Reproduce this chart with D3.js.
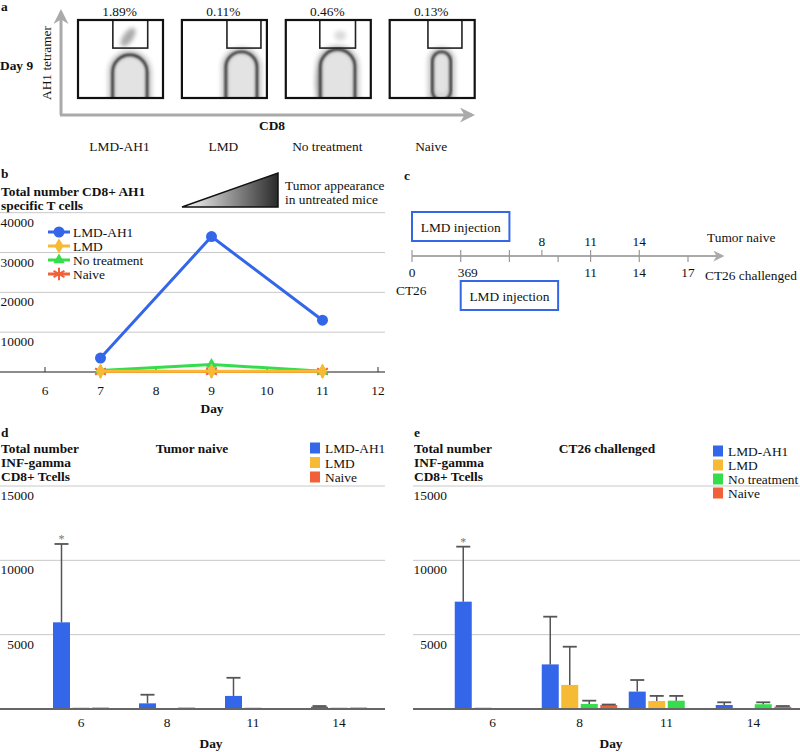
<!DOCTYPE html>
<html><head><meta charset="utf-8">
<script src="https://cdn.jsdelivr.net/npm/d3@7"></script>
<style>
body{margin:0;background:#fff;}
</style></head>
<body><svg id="c" width="800" height="752"></svg>
<script>
// ---------------- DATA ----------------
// Panel a (flow cytometry, day 9)
const flowGroups = ["LMD-AH1", "LMD", "No treatment", "Naive"];
const flowPercents = ["1.89%", "0.11%", "0.46%", "0.13%"];
// population shape in fluorescence units (0-1000)
const popCD8 = [610, 700, 610, 610];
const popSpread = [400, 360, 400, 210];
const popTop = [550, 590, 620, 590];
const popLow = [0, 0, 0, 60];
const gateLeft = [410, 530, 400, 450];
const gateRight = [820, 930, 820, 850];
const gateLow = 640;
const tetCluster = {cd8: 590, tet: 780};

// Panel b
const daysB = [7, 9, 11];
const xTicksB = [6, 7, 8, 9, 10, 11, 12];
const yTicksB = [0, 10000, 20000, 30000, 40000];
const seriesB = ["LMD-AH1", "LMD", "No treatment", "Naive"];
const valLMDAH1 = [3500, 34000, 13000];
const valLMD = [200, 200, 200];
const valNoTreat = [400, 1900, 200];
const valNaive = [100, 100, 100];

// Panel c (timeline)
const tlTopTicks = [0, 3, 6, 8, 11, 14];
const tlBottomTicks = [0, 3, 6, 9, 11, 14, 17];
const tlTopLabels = ["8", "11", "14"];
const tlTopLabelDays = [8, 11, 14];
const tlBottomLabels = ["0", "369", "11", "14", "17"];
const tlBottomLabelDays = [0, 3, 11, 14, 17];

// Panels d & e
const daysDE = ["6", "8", "11", "14"];
const yTicksDE = [0, 5000, 10000, 15000];
const seriesD = ["LMD-AH1", "LMD", "Naive"];
const dMeans = {
  "LMD-AH1": [5830, 380, 880, 150],
  "LMD": [100, 0, 100, 100],
  "Naive": [100, 100, 0, 100]
};
const dErr = {
  "LMD-AH1": [11100, 960, 2100, 200],
  "LMD": [null, null, null, null],
  "Naive": [null, null, null, null]
};
const seriesE = ["LMD-AH1", "LMD", "No treatment", "Naive"];
const eMeans = {
  "LMD-AH1": [7220, 3000, 1170, 270],
  "LMD": [100, 1620, 540, 0],
  "No treatment": [0, 340, 560, 320],
  "Naive": [50, 270, 0, 150]
};
const eErr = {
  "LMD-AH1": [10920, 6210, 1950, 450],
  "LMD": [null, 4190, 880, null],
  "No treatment": [null, 560, 880, 450],
  "Naive": [null, 300, null, 200]
};

const colors = {"LMD-AH1": "#3366e8", "LMD": "#f6ba34", "No treatment": "#35dc4c", "Naive": "#f2603a"};
const FONT = "'Liberation Serif'";
const FS = 13.4;

// ---------------- DRAW ----------------
const svg = d3.select("#c");
svg.append("rect").attr("width", 800).attr("height", 752).attr("fill", "#fff");
const defs = svg.append("defs");
defs.append("filter").attr("id", "blur1").append("feGaussianBlur").attr("stdDeviation", 0.9);
defs.append("filter").attr("id", "blur2").attr("x", "-50%").attr("y", "-50%").attr("width", "200%").attr("height", "200%")
  .append("feGaussianBlur").attr("stdDeviation", 2.2);
const tg = defs.append("linearGradient").attr("id", "trig");
tg.append("stop").attr("offset", "0%").attr("stop-color", "#fff");
tg.append("stop").attr("offset", "100%").attr("stop-color", "#2a2a2a");
const mk = defs.append("marker").attr("id", "arrowG").attr("viewBox", "0 0 10 10").attr("refX", 8).attr("refY", 5)
  .attr("markerWidth", 5).attr("markerHeight", 5).attr("orient", "auto");
mk.append("path").attr("d", "M0,0 L10,5 L0,10 L3,5 Z").attr("fill", "#aaa");

function txt(g, x, y, s, opts = {}) {
  const t = g.append("text").attr("x", x).attr("y", y).text(s)
    .attr("font-family", FONT)
    .attr("font-size", opts.size || FS)
    .attr("fill", opts.fill || "#111");
  if (opts.bold) t.attr("font-weight", "bold");
  if (opts.anchor) t.attr("text-anchor", opts.anchor);
  return t;
}

// ===== Panel a =====
{
  const g = svg.append("g");
  txt(g, 1, 11, "a", {bold: true});
  const boxX = d3.scaleBand().domain(flowGroups).range([78, 478]).paddingInner(0.15).paddingOuter(0);
  const boxTop = 20, boxBot = 98;
  const fy = d3.scaleLinear().domain([0, 1000]).range([boxBot, boxTop]);
  // axes arrows
  g.append("line").attr("x1", 61).attr("y1", 115).attr("x2", 61).attr("y2", 12)
    .attr("stroke", "#aaa").attr("stroke-width", 3).attr("marker-end", "url(#arrowG)");
  g.append("line").attr("x1", 60).attr("y1", 115).attr("x2", 472).attr("y2", 115)
    .attr("stroke", "#aaa").attr("stroke-width", 3).attr("marker-end", "url(#arrowG)");
  txt(g, 0, 70, "Day 9", {bold: true});
  txt(g, 0, 0, "AH1 tetramer").attr("transform", "translate(51,63) rotate(-90)").attr("text-anchor", "middle");
  txt(g, 272, 130, "CD8", {bold: true, anchor: "middle"});

  flowGroups.forEach((grp, i) => {
    const bx = boxX(grp), bw = 85;
    const fx = d3.scaleLinear().domain([0, 1000]).range([bx, bx + bw]);
    const cg = g.append("g");
    const cid = "clip" + i;
    defs.append("clipPath").attr("id", cid).append("rect").attr("x", bx).attr("y", boxTop).attr("width", bw).attr("height", boxBot - boxTop);
    cg.attr("clip-path", `url(#${cid})`);
    const cx = fx(popCD8[i]);
    const hw = (fx(popSpread[i]) - fx(0)) / 2;
    const topY = fy(popTop[i]);
    const botY = fy(popLow[i]);
    function shape(ex) {
      const p = d3.path();
      const r = hw + ex;
      p.moveTo(cx - r, botY + (popLow[i] > 0 ? -2 + ex : 5));
      p.lineTo(cx - r, topY + r - ex);
      p.arc(cx, topY + r - ex, r, Math.PI, 2 * Math.PI);
      p.lineTo(cx + r, botY + (popLow[i] > 0 ? -2 + ex : 5));
      if (popLow[i] > 0) p.arc(cx, botY - 2 + ex, r, 0, Math.PI);
      p.closePath();
      return p.toString();
    }
    cg.append("path").attr("d", shape(5)).attr("fill", "#888").attr("opacity", 0.45).attr("filter", "url(#blur2)");
    if (grp === "No treatment") {
      cg.append("ellipse").attr("cx", cx - hw * 0.6).attr("cy", (topY + botY) / 2 + 8).attr("rx", hw * 0.7).attr("ry", (botY - topY) / 2)
        .attr("fill", "#777").attr("opacity", 0.4).attr("filter", "url(#blur2)");
    }
    cg.append("path").attr("d", shape(0)).attr("fill", "#d9d9d9").attr("stroke", "#3a3a3a").attr("stroke-width", 3.2).attr("filter", "url(#blur1)");
    cg.append("path").attr("d", shape(-4)).attr("fill", "#e3e3e3").attr("filter", "url(#blur1)");
    if (grp === "LMD-AH1") {
      cg.append("ellipse").attr("cx", fx(tetCluster.cd8)).attr("cy", fy(tetCluster.tet)).attr("rx", 5).attr("ry", 11)
        .attr("transform", `rotate(35,${fx(tetCluster.cd8)},${fy(tetCluster.tet)})`)
        .attr("fill", "#666").attr("opacity", 0.55).attr("filter", "url(#blur2)");
    }
    if (grp === "No treatment") {
      cg.append("ellipse").attr("cx", fx(640)).attr("cy", fy(800)).attr("rx", 6).attr("ry", 5)
        .attr("fill", "#999").attr("opacity", 0.35).attr("filter", "url(#blur2)");
    }
    // gate
    g.append("rect").attr("x", fx(gateLeft[i])).attr("y", fy(1000)).attr("width", fx(gateRight[i]) - fx(gateLeft[i]))
      .attr("height", fy(gateLow) - fy(1000)).attr("fill", "none").attr("stroke", "#222").attr("stroke-width", 1.6);
    g.append("rect").attr("x", bx).attr("y", boxTop).attr("width", bw).attr("height", boxBot - boxTop)
      .attr("fill", "none").attr("stroke", "#111").attr("stroke-width", 2.2);
    txt(g, bx + bw / 2 - 1, 16, flowPercents[i], {anchor: "middle"});
    txt(g, bx + bw / 2 - 1, 151, grp, {anchor: "middle"});
  });
}

// ===== Panel b =====
{
  const g = svg.append("g");
  txt(g, 1, 178, "b", {bold: true});
  txt(g, 1, 196, "Total number CD8+ AH1", {bold: true});
  txt(g, 1, 210, "specific T cells", {bold: true});
  g.append("path").attr("d", "M182,207 L278,173 L278,207 Z").attr("fill", "url(#trig)").attr("stroke", "#111").attr("stroke-width", 1.5);
  txt(g, 285, 190, "Tumor appearance");
  txt(g, 285, 204, "in untreated mice");

  const x = d3.scaleLinear().domain([6, 12]).range([45, 378]);
  const y = d3.scaleLinear().domain([0, 40000]).range([372, 212.7]);
  yTicksB.forEach(v => {
    if (v > 0) {
      g.append("line").attr("x1", 0).attr("x2", 385).attr("y1", y(v)).attr("y2", y(v)).attr("stroke", "#c8c8c8").attr("stroke-width", 1);
      txt(g, 34, y(v) + 14, String(v), {anchor: "end"});
    }
  });
  g.append("line").attr("x1", 0).attr("x2", 385).attr("y1", y(0)).attr("y2", y(0)).attr("stroke", "#666").attr("stroke-width", 1.5);
  xTicksB.forEach(d => {
    g.append("line").attr("x1", x(d)).attr("x2", x(d)).attr("y1", y(0) - 5).attr("y2", y(0)).attr("stroke", "#333").attr("stroke-width", 1);
    txt(g, x(d), 395, String(d), {anchor: "middle"});
  });
  txt(g, 212, 413, "Day", {bold: true, anchor: "middle"});

  const valsB = {"LMD-AH1": valLMDAH1, "LMD": valLMD, "No treatment": valNoTreat, "Naive": valNaive};
  const symType = {"LMD-AH1": d3.symbolCircle, "LMD": d3.symbolDiamond, "No treatment": d3.symbolTriangle, "Naive": d3.symbolAsterisk};
  const symSize = {"LMD-AH1": 95, "LMD": 70, "No treatment": 55, "Naive": 110};
  const line = d3.line().x(d => x(d[0])).y(d => y(d[1]));
  function marker(gg, s, px, py) {
    const p = gg.append("path").attr("d", d3.symbol().type(symType[s]).size(symSize[s])()).attr("transform", `translate(${px},${py})`);
    if (s === "Naive") p.attr("fill", "none").attr("stroke", colors[s]).attr("stroke-width", 2);
    else p.attr("fill", colors[s]);
  }
  seriesB.slice().reverse().forEach(s => {
    const pts = daysB.map((d, i) => [d, valsB[s][i]]);
    g.append("path").attr("d", line(pts)).attr("fill", "none").attr("stroke", colors[s]).attr("stroke-width", 3);
    pts.forEach(p => marker(g, s, x(p[0]), y(p[1])));
  });
  // legend
  seriesB.forEach((s, i) => {
    const ly = 232 + i * 14;
    g.append("line").attr("x1", 48).attr("x2", 70).attr("y1", ly).attr("y2", ly).attr("stroke", colors[s]).attr("stroke-width", 3);
    marker(g, s, 59, ly);
    txt(g, 73, ly + 5, s);
  });
}

// ===== Panel c =====
{
  const g = svg.append("g");
  txt(g, 404, 180, "c", {bold: true});
  const t = d3.scaleLinear().domain([0, 17]).range([412, 688]);
  g.append("line").attr("x1", t(0)).attr("x2", t(19.1)).attr("y1", 256).attr("y2", 256)
    .attr("stroke", "#aaa").attr("stroke-width", 2.2).attr("marker-end", "url(#arrowG)");
  tlTopTicks.forEach(d => g.append("line").attr("x1", t(d)).attr("x2", t(d)).attr("y1", 250).attr("y2", 256).attr("stroke", "#999").attr("stroke-width", 1.2));
  tlBottomTicks.forEach(d => g.append("line").attr("x1", t(d)).attr("x2", t(d)).attr("y1", 256).attr("y2", 262).attr("stroke", "#999").attr("stroke-width", 1.2));
  tlTopLabels.forEach((l, i) => txt(g, t(tlTopLabelDays[i]), 246, l, {anchor: "middle"}));
  tlBottomLabels.forEach((l, i) => {
    const d = tlBottomLabelDays[i];
    if (l === "369") txt(g, t(d) - 3, 277, l);
    else txt(g, t(d), 277, l, {anchor: "middle"});
  });
  txt(g, 707, 242, "Tumor naive");
  txt(g, 705, 280, "CT26 challenged");
  txt(g, 396, 295, "CT26");
  g.append("rect").attr("x", t(0)).attr("y", 212).attr("width", t(6) - t(0)).attr("height", 29)
    .attr("fill", "none").attr("stroke", "#3366e8").attr("stroke-width", 2);
  txt(g, (t(0) + t(6)) / 2, 232, "LMD injection", {anchor: "middle"});
  g.append("rect").attr("x", t(3)).attr("y", 281).attr("width", t(9) - t(3)).attr("height", 29)
    .attr("fill", "none").attr("stroke", "#3366e8").attr("stroke-width", 2);
  txt(g, (t(3) + t(9)) / 2, 301, "LMD injection", {anchor: "middle"});
}

// ===== Panels d & e =====
function barPanel(o) {
  const g = svg.append("g");
  txt(g, o.x0 + 1, 437, o.letter, {bold: true});
  txt(g, o.x0 + 1, 453, "Total number", {bold: true});
  txt(g, o.x0 + 1, 467, "INF-gamma", {bold: true});
  txt(g, o.x0 + 1, 481, "CD8+ Tcells", {bold: true});
  txt(g, o.titleX, 453, o.title, {bold: true, anchor: "middle"});
  const y = d3.scaleLinear().domain([0, 15000]).range([709, 486]);
  const x = d3.scaleBand().domain(daysDE).range(o.xRange);
  yTicksDE.forEach(v => {
    if (v > 0) {
      g.append("line").attr("x1", o.gridX0).attr("x2", o.gridX1).attr("y1", y(v)).attr("y2", y(v)).attr("stroke", "#c8c8c8").attr("stroke-width", 1);
      txt(g, o.labelR, y(v) + 14, String(v), {anchor: "end"});
    }
  });
  const n = o.series.length;
  const step = 19.5, bw = 17;
  o.series.forEach((s, si) => {
    daysDE.forEach((d, di) => {
      const cx = x(d) + x.bandwidth() / 2 + (si - (n - 1) / 2) * step;
      const v = o.means[s][di];
      if (v > 0) {
        g.append("rect").attr("x", cx - bw / 2).attr("y", y(v)).attr("width", bw).attr("height", y(0) - y(v)).attr("fill", colors[s]);
      }
      const e = o.errs[s][di];
      if (e != null) {
        g.append("line").attr("x1", cx).attr("x2", cx).attr("y1", y(v)).attr("y2", y(e)).attr("stroke", "#555").attr("stroke-width", 1.5);
        g.append("line").attr("x1", cx - 7).attr("x2", cx + 7).attr("y1", y(e)).attr("y2", y(e)).attr("stroke", "#555").attr("stroke-width", 1.8);
        if (di === 0 && s === "LMD-AH1") txt(g, cx, y(e) - 1, "*", {anchor: "middle", size: 12, fill: "#777"});
      }
    });
  });
  g.append("line").attr("x1", o.gridX0).attr("x2", o.gridX1).attr("y1", y(0)).attr("y2", y(0)).attr("stroke", "#666").attr("stroke-width", 1.8);
  daysDE.forEach(d => txt(g, x(d) + x.bandwidth() / 2, 727, d, {anchor: "middle"}));
  txt(g, o.dayX, 748, "Day", {bold: true, anchor: "middle"});
  o.series.forEach((s, i) => {
    const ly = o.legY + i * o.legStep;
    g.append("rect").attr("x", o.legX).attr("y", ly - 5.5).attr("width", 10).attr("height", 11).attr("fill", colors[s]);
    txt(g, o.legX + 15, ly + 5, s);
  });
}
barPanel({letter: "d", x0: 0, title: "Tumor naive", titleX: 192, xRange: [38, 382], gridX0: 0, gridX1: 385, labelR: 34,
  series: seriesD, means: dMeans, errs: dErr, dayX: 211, legX: 310, legY: 448, legStep: 14.5});
barPanel({letter: "e", x0: 413, title: "CT26 challenged", titleX: 607, xRange: [449, 797], gridX0: 413, gridX1: 800, labelR: 447,
  series: seriesE, means: eMeans, errs: eErr, dayX: 611, legX: 713, legY: 451, legStep: 14});
</script></body></html>
